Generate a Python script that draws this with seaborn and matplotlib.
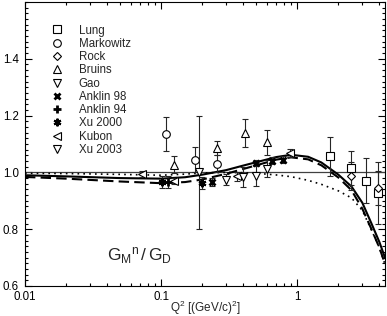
import numpy as np
import pandas as pd
import matplotlib
matplotlib.use('Agg')
import matplotlib.pyplot as plt
import seaborn as sns
from matplotlib.ticker import NullFormatter, MultipleLocator

# --- data ---
lung_q = [1.73, 2.48, 3.21, 3.92]
lung_v = [1.056, 1.015, 0.971, 0.927]
lung_e = [0.07, 0.06, 0.08, 0.11]

markowitz_q = [0.109, 0.176, 0.255]
markowitz_v = [1.136, 1.045, 1.030]
markowitz_e = [0.06, 0.043, 0.03]

rock_q = [2.48, 3.92]
rock_v = [0.988, 0.945]
rock_e = [0.05, 0.06]

bruins_q = [0.125, 0.255, 0.415, 0.60]
bruins_v = [1.027, 1.085, 1.138, 1.106]
bruins_e = [0.03, 0.025, 0.05, 0.045]

gao_q = [0.19]
gao_v = [1.0]
gao_e = [0.2]

anklin98_q = [0.236, 0.50, 0.65, 0.79]
anklin98_v = [0.966, 1.033, 1.041, 1.045]
anklin98_e = [0.015, 0.012, 0.012, 0.012]

anklin94_q = [0.113]
anklin94_v = [0.966]
anklin94_e = [0.02]

xu2000_q = [0.101, 0.199]
xu2000_v = [0.966, 0.963]
xu2000_e = [0.02, 0.02]

kubon_q = [0.072, 0.125, 0.359, 0.89]
kubon_v = [0.995, 0.970, 0.986, 1.068]
kubon_e = [0.01, 0.01, 0.015, 0.015]

xu2003_q = [0.30, 0.40, 0.50, 0.60]
xu2003_v = [0.974, 0.984, 0.987, 1.013]
xu2003_e = [0.02, 0.035, 0.035, 0.03]

# model curves
curve_q = [0.01, 0.02, 0.05, 0.1, 0.15, 0.2, 0.3, 0.4, 0.5, 0.7, 0.9, 1.2, 1.5,
           2.0, 2.5, 3.0, 3.5, 4.0, 4.4]
solid_v = [0.990, 0.986, 0.980, 0.978, 0.983, 0.992, 1.008, 1.024, 1.036, 1.054,
           1.062, 1.055, 1.035, 0.992, 0.950, 0.893, 0.820, 0.755, 0.700]
dashed_v = [0.984, 0.978, 0.968, 0.962, 0.966, 0.975, 0.995, 1.012, 1.025, 1.045,
            1.053, 1.046, 1.025, 0.982, 0.937, 0.872, 0.800, 0.735, 0.678]
dotted_v = [0.997, 0.996, 0.993, 0.990, 0.994, 0.998, 1.000, 0.999, 0.997, 0.991,
            0.985, 0.972, 0.958, 0.935, 0.910, 0.866, 0.797, 0.735, 0.676]

sns.set_style('ticks')
plt.rcParams['font.family'] = ['Liberation Sans', 'DejaVu Sans']
plt.rcParams['mathtext.fontset'] = 'custom'
plt.rcParams['mathtext.rm'] = 'Liberation Sans'
plt.rcParams['mathtext.it'] = 'Liberation Sans'
plt.rcParams['mathtext.bf'] = 'Liberation Sans'

fig = plt.figure(figsize=(3.87, 3.16), dpi=100)
ax = fig.add_axes([25/387, 1-286/316, 360/387, 284/316])

curves = pd.DataFrame({'Q2': curve_q, 'solid': solid_v, 'dashed': dashed_v, 'dotted': dotted_v})
ax.axhline(1.0, color='0.25', lw=0.9, zorder=1)
sns.lineplot(data=curves, x='Q2', y='dotted', ax=ax, color='k', lw=1.2, linestyle=(0, (1, 2.5)))
sns.lineplot(data=curves, x='Q2', y='dashed', ax=ax, color='k', lw=1.5, linestyle=(0, (5, 2.5)))
sns.lineplot(data=curves, x='Q2', y='solid', ax=ax, color='k', lw=1.5)

ms = 5.5
open_kw = dict(mfc='white', mec='k', mew=0.8)
sets = [
    ('Lung', lung_q, lung_v, lung_e, 's', open_kw),
    ('Markowitz', markowitz_q, markowitz_v, markowitz_e, 'o', open_kw),
    ('Rock', rock_q, rock_v, rock_e, 'D', dict(open_kw, ms=4.2)),
    ('Bruins', bruins_q, bruins_v, bruins_e, '^', open_kw),
    ('Gao', gao_q, gao_v, gao_e, 'v', open_kw),
    ('Anklin 98', anklin98_q, anklin98_v, anklin98_e, 'x', dict(mec='k', mew=2.0, ms=4.5)),
    ('Anklin 94', anklin94_q, anklin94_v, anklin94_e, '+', dict(mec='k', mew=2.0, ms=5.5)),
    ('Xu 2000', xu2000_q, xu2000_v, xu2000_e, (6, 2, 0), dict(mec='k', mew=1.5, ms=5.5)),
    ('Kubon', kubon_q, kubon_v, kubon_e, '<', open_kw),
    ('Xu 2003', xu2003_q, xu2003_v, xu2003_e, 'v', open_kw),
]
handles = []
for name, q, v, e, mk, kw in sets:
    kw = dict(kw)
    size = kw.pop('ms', ms)
    ax.errorbar(q, v, yerr=e, fmt='none', ecolor='0.15',
                elinewidth=0.8, capsize=2.2, capthick=0.8, zorder=3)
    h, = ax.plot(q, v, marker=mk, ls='none', ms=size, color='k', zorder=4, **kw)
    handles.append(h)

leg = ax.legend(handles, [s[0] for s in sets], loc='upper left', frameon=False,
                bbox_to_anchor=(0.055, 0.937), fontsize=8.3, labelspacing=0.11,
                handletextpad=1.15, handlelength=1.4, borderaxespad=0)

ax.set_xscale('log')
ax.set_xlim(0.01, 4.4)
ax.set_ylim(0.6, 1.6)
ax.set_xticks([0.01, 0.1, 1])
ax.set_xticklabels(['0.01', '0.1', '1'])
ax.xaxis.set_minor_formatter(NullFormatter())
ax.set_yticks([0.6, 0.8, 1.0, 1.2, 1.4])
ax.set_yticklabels(['0.6', '0.8', '1.0', '1.2', '1.4'])
ax.yaxis.set_minor_locator(MultipleLocator(0.02))
ax.tick_params(which='both', direction='in', top=True, right=True, labelsize=8.3,
               width=0.8, colors='k')
ax.tick_params(axis='x', pad=3.5)
ax.tick_params(axis='y', pad=4.5)
ax.tick_params(which='major', length=5)
ax.tick_params(which='minor', length=2.5)
for lab in ax.get_yticklabels():
    lab.set_va('center_baseline')
for sp in ax.spines.values():
    sp.set_linewidth(0.8)
    sp.set_color('k')

ax.set_xlabel(r'Q$^2$ [(GeV/c)$^2$]', fontsize=8.5)
ax.xaxis.set_label_coords(0.5, -0.045)
ax.set_ylabel('')
ax.text(0.228, 0.09, r'$G_M{}^n\,/\,G_D$', transform=ax.transAxes, fontsize=12.5,
        va='baseline')

fig.savefig('out.png', dpi=100)
